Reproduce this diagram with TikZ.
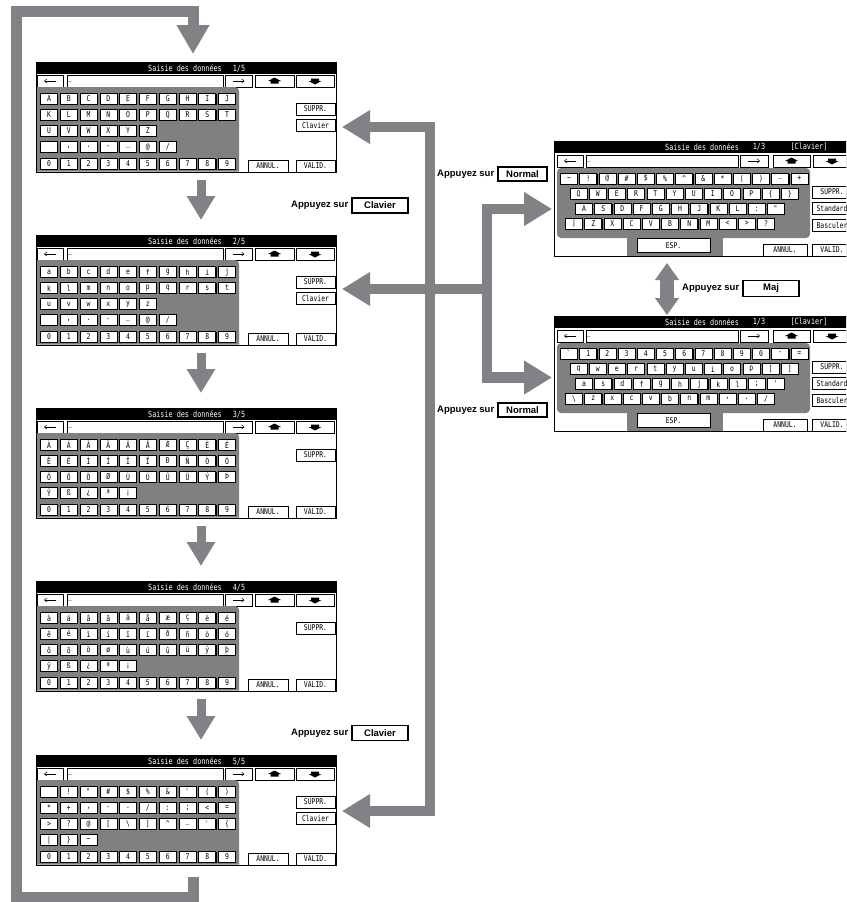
\documentclass[tikz,border=0pt]{standalone}
\usepackage{fontspec}
\newfontfamily\lcdfont[FakeStretch=0.8]{DejaVu Sans Mono}
\newfontfamily\tagfont{Liberation Sans}
\usetikzlibrary{arrows.meta,positioning,shadows}
\definecolor{flowgray}{RGB}{128,130,133}
\definecolor{padgray}{RGB}{128,128,128}
% one row of keys: first centre x, y, pitch, labels
\newcommand{\keyrow}[4]{\foreach \k [count=\i from 0] in {#4} \node[key] at ({#1+\i*#3},#2) {\k};}
\newcommand{\uptab}[2]{\fill (#1,#2) ++(0,-3.5) -- ++(6.5,3.5) -- ++(-2.5,0) -- ++(0,2.5) -- ++(-8,0) -- ++(0,-2.5) -- ++(-2.5,0) -- cycle;}
\newcommand{\downtab}[2]{\fill (#1,#2) ++(0,3.5) -- ++(6.5,-3.5) -- ++(-2.5,0) -- ++(0,-2.5) -- ++(-8,0) -- ++(0,2.5) -- ++(-2.5,0) -- cycle;}
% thin arrows on the cursor buttons
\newcommand{\cursorarrows}[1]{%
\draw[cursorarrow] ([xshift=6pt]#1-back.center) -- ([xshift=-6pt]#1-back.center);
\draw[cursorarrow] ([xshift=-6pt]#1-fwd.center) -- ([xshift=6pt]#1-fwd.center);}
% screen of the left column: name, top, page, rows 1-4, extra button
\newcommand{\leftscreen}[8]{%
\begin{scope}[shift={(36,#2)}]
\draw[fill=white,line width=0.6pt] (0,0) rectangle (300,110);
\fill (0,0) rectangle (300,12);
\coordinate (#1-top) at (165,0);\coordinate (#1-bot) at (165,110);
\node[titletext] at (149,6.5) {Saisie des données};
\node[titletext] at (203,6.5) {#3/5};
\node[btn,minimum width=26pt] (#1-back) at (14,19) {};
\node[field,minimum width=156pt] (#1-field) at (109,19) {};
\node[lcdtext,anchor=west] at ([xshift=1pt]#1-field.west) {\_};
\node[btn,minimum width=27pt] (#1-fwd) at (202.5,19) {};
\cursorarrows{#1}
\node[btn,minimum width=39pt] (#1-up) at (238.5,19) {};\uptab{238.5}{19}
\node[btn,minimum width=38pt] (#1-down) at (279,19) {};\downtab{279}{19}
\fill[padgray] (1,109.5) -- (1,25) -- (199,25) arc[start angle=-90,end angle=0,radius=4] -- (203,109.5) -- cycle;
\keyrow{13}{37}{19.78}{#4}
\keyrow{13}{53}{19.78}{#5}
\keyrow{13}{69}{19.78}{#6}
\keyrow{13}{85}{19.78}{#7}
\keyrow{13}{102}{19.78}{0,1,2,3,4,5,6,7,8,9}
\node[btn] (#1-suppr) at (279.5,47) {SUPPR.};
#8
\node[btn,minimum width=40pt] (#1-annul) at (232,104) {ANNUL.};
\node[btn] (#1-valid) at (279.5,104) {VALID.};
\end{scope}}
% screen of the right column: name, top, rows 1-4, page marks, Basculer look
\newcommand{\rightscreen}[7]{%
\begin{scope}[shift={(554,#2)}]
\draw[fill=white,line width=0.6pt] (0,0) rectangle (300,115);
\fill (0,0) rectangle (300,11.5);
\node[titletext] at (148,6) {Saisie des données};
\node[titletext] at (205,6) {1/3};
\node[titletext] at (255,6) {[Clavier]};
\node[btn,minimum width=26pt] (#1-back) at (16,20) {};
\node[field,minimum width=152pt] (#1-field) at (108,20) {};
\node[lcdtext,anchor=west] at ([xshift=1pt]#1-field.west) {\_};
\node[btn,minimum width=28pt] (#1-fwd) at (200,20) {};
\cursorarrows{#1}
\node[btn,minimum width=37pt] (#1-up) at (237.5,20) {};\uptab{237.5}{20}
\node[btn,minimum width=38pt] (#1-down) at (278,20) {};\downtab{278}{20}
\fill[padgray,rounded corners=4pt] (3,27) rectangle (256,97);
\fill[padgray] (73,90) rectangle (169,114.5);
\keyrow{15}{37.5}{19.2}{#3}
\keyrow{24.5}{53}{19.2}{#4}
\keyrow{30}{68}{19.2}{#5}
\keyrow{20}{82.5}{19.2}{#6}
\node[btn,minimum width=73pt,minimum height=14pt] (#1-esp) at (119.5,104.5) {ESP.};
\node[btn,minimum width=44pt] (#1-annul) at (231,109) {ANNUL.};
\node[btn] (#1-suppr) at (278,51) {SUPPR.};
\node[btn] (#1-std) at (278,67.5) {Standard};
\node[btn,#7] (#1-basc) at (278,84) {Basculer};
\node[btn] (#1-valid) at (278,109) {VALID.};
\end{scope}}

\begin{document}
\begin{tikzpicture}[x=1pt,y=-1pt,
lcdtext/.style={inner sep=0pt,font=\lcdfont\fontsize{8}{8}\selectfont},
titletext/.style={text=white,inner sep=0pt,font=\lcdfont\fontsize{8.5}{8.5}\selectfont},
key/.style={draw,fill=white,line width=0.6pt,minimum width=17pt,minimum height=11pt,inner sep=0pt,
  font=\lcdfont\fontsize{8}{8}\selectfont,
  drop shadow={shadow xshift=0.8pt,shadow yshift=-0.8pt,opacity=1,fill=black}},
btn/.style={key,minimum width=39pt,minimum height=12pt},
field/.style={draw,fill=white,line width=0.6pt,minimum height=12pt,inner sep=0pt},
cursorarrow/.style={line width=0.5pt,-{Straight Barb[length=2.5pt,width=4pt]}},
flowline/.style={draw=flowgray,line width=10.5pt},
bigtip/.tip={Triangle[length=28pt,width=32pt]},
downflow/.style={draw=flowgray,line width=9pt,-{Triangle[length=24pt,width=27pt]}},
majflow/.style={draw=flowgray,line width=14pt,{Triangle[length=17pt,width=23pt]}-{Triangle[length=17pt,width=23pt]}},
tagbox/.style={draw,line width=1.1pt,minimum width=56pt,minimum height=15pt,inner sep=0pt,
  font=\tagfont\bfseries\fontsize{9.5}{10}\selectfont},
tagtext/.style={inner sep=1pt,font=\tagfont\bfseries\fontsize{9.5}{10}\selectfont}]
\clip (0,0) rectangle (846,902);
\fill[white] (0,0) rectangle (846,902);

% left column, five pages
\leftscreen{s1}{62}{1}{A,B,C,D,E,F,G,H,I,J}{K,L,M,N,O,P,Q,R,S,T}{U,V,W,X,Y,Z}{{},{,},.,-,\_,@,/}
  {\node[btn] (s1-clav) at (279.5,63.5) {Clavier};}
\leftscreen{s2}{235}{2}{a,b,c,d,e,f,g,h,i,j}{k,l,m,n,o,p,q,r,s,t}{u,v,w,x,y,z}{{},{,},.,-,\_,@,/}
  {\node[btn] (s2-clav) at (279.5,63.5) {Clavier};}
\leftscreen{s3}{408}{3}{À,Á,Â,Ã,Ä,Å,Æ,Ç,È,É}{Ê,Ë,Ì,Í,Î,Ï,Ð,Ñ,Ò,Ó}{Ô,Õ,Ö,Ø,Ù,Ú,Û,Ü,Ý,Þ}{Ÿ,ß,¿,ª,¡}{}
\leftscreen{s4}{581}{4}{à,á,â,ã,ä,å,æ,ç,è,é}{ê,ë,ì,í,î,ï,ð,ñ,ò,ó}{ô,õ,ö,ø,ù,ú,û,ü,ý,þ}{ÿ,ß,¿,ª,¡}{}
\leftscreen{s5}{755}{5}{{},!,\textquotedbl,\#,\$,\%,\&,\textquotesingle,{(},{)}}
  {*,+,{,},-,.,/,:,{;},<,=}{>,?,@,{[},\textbackslash,{]},\textasciicircum,\_,\textasciigrave,\{}
  {|,\},\textasciitilde}
  {\node[btn] (s5-clav) at (279.5,63.5) {Clavier};}

% right column, two keyboards
\rightscreen{r1}{141}{\textasciitilde,!,@,\#,\$,\%,\textasciicircum,\&,*,{(},{)},\_,+}
  {Q,W,E,R,T,Y,U,I,O,P,\{,\}}{A,S,D,F,G,H,J,K,L,:,\textquotedbl}{|,Z,X,C,V,B,N,M,<,>,?}{}{fill=black,text=white}
\rightscreen{r2}{316}{\textasciigrave,1,2,3,4,5,6,7,8,9,0,-,=}
  {q,w,e,r,t,y,u,i,o,p,{[},{]}}{a,s,d,f,g,h,j,k,l,{;},\textquotesingle}{\textbackslash,z,x,c,v,b,n,m,{,},.,/}{}{}

% page to page
\draw[downflow] ([yshift=-8pt]s1-bot) -- ([yshift=15pt]s2-top);
\draw[downflow] ([yshift=-8pt]s2-bot) -- ([yshift=15pt]s3-top);
\draw[downflow] ([yshift=-8pt]s3-bot) -- ([yshift=15pt]s4-top);
\draw[downflow] ([yshift=-8pt]s4-bot) -- ([yshift=15pt]s5-top);

% back to page 1
\coordinate (loopout) at (193,877);
\coordinate (loopin) at (193,54);
\draw[flowline,line width=11pt,-{Triangle[length=29pt,width=31pt]}] (loopout) -- (193,897) -- (16,897) -- (16,11.5) -- (193,11.5) -- (loopin);

% Clavier branches
\coordinate (tipA) at (342,127);
\coordinate (tipB) at (342,289);
\coordinate (tipE) at (342,811);
\coordinate (tipC) at (552,209);
\coordinate (tipD) at (552,377.5);
\draw[flowline,{bigtip}-{bigtip}] (tipA) -- (430,127) -- (430,811) -- (tipE);
\draw[flowline,{bigtip}-] (tipB) -- (487,289);
\draw[flowline,{bigtip}-{bigtip}] (tipC) -- (487,209) -- (487,377.5) -- (tipD);
\coordinate (majtop) at (667,263);
\coordinate (majbot) at (667,315);
\draw[majflow] (majtop) -- (majbot);

% what to press
\node[tagbox] (clav1) at (380,205.5) {Clavier};
\node[tagtext,left=2pt of clav1] {Appuyez sur};
\node[tagbox] (clav2) at (380,733) {Clavier};
\node[tagtext,left=2pt of clav2] {Appuyez sur};
\node[tagbox,minimum width=49pt,minimum height=14pt] (norm1) at (522.5,174) {Normal};
\node[tagtext,left=2pt of norm1] {Appuyez sur};
\node[tagbox,minimum width=49pt,minimum height=14pt] (norm2) at (522.5,410) {Normal};
\node[tagtext,left=2pt of norm2] {Appuyez sur};
\node[tagbox,minimum height=16pt] (maj) at (771,288.5) {Maj};
\node[tagtext,left=2pt of maj] {Appuyez sur};
\end{tikzpicture}
\end{document}
